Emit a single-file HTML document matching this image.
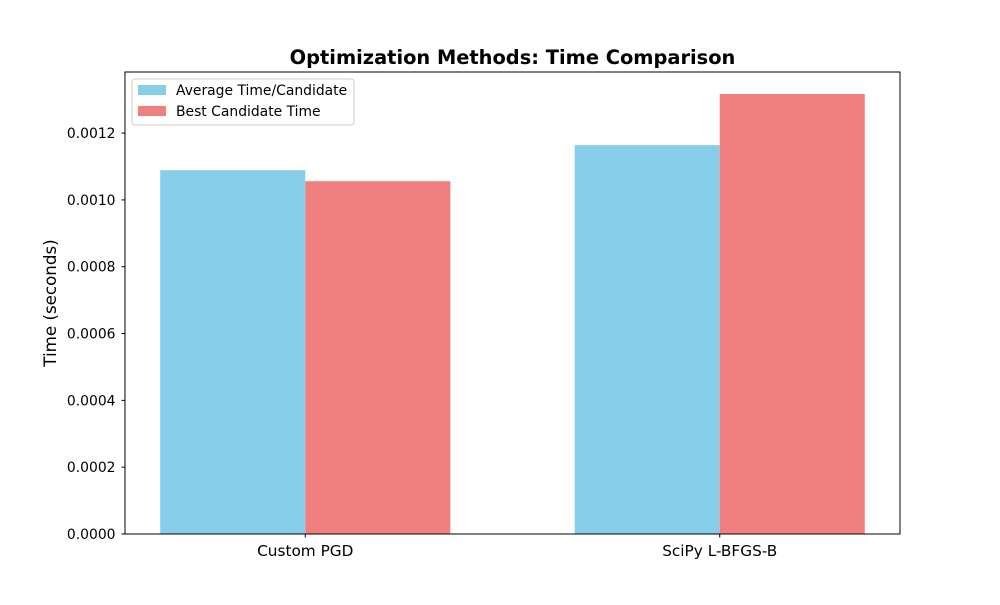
<!DOCTYPE html>
<html><head><meta charset="utf-8"><style>
body{margin:0;background:#fff;font-family:"Liberation Sans","DejaVu Sans",sans-serif}
svg text{font-family:"DejaVu Sans","Liberation Sans",sans-serif}
</style></head><body>
<svg id="chart" width="1000" height="600" xmlns="http://www.w3.org/2000/svg"></svg>
<script>
const categories = ["Custom PGD", "SciPy L-BFGS-B"];
const avgTimes = [0.001089, 0.001164];
const bestTimes = [0.001056, 0.001317];
const yTicks = [0, 0.0002, 0.0004, 0.0006, 0.0008, 0.0010, 0.0012];
const seriesNames = ["Average Time/Candidate", "Best Candidate Time"];
const seriesColors = ["#87ceeb", "#f08080"];

const L=125,R=900,T=72,B=534;
const yMax=Math.max(...avgTimes,...bestTimes)*1.05;
const y=v=>B-(v/yMax)*(B-T);
const xMin=-0.435,xMax=categories.length-1+0.435;
const x=v=>L+(v-xMin)/(xMax-xMin)*(R-L);
const bw=0.35;
const svg=document.getElementById('chart');
const NS="http://www.w3.org/2000/svg";
function mk(tag,attrs,parent){const e=document.createElementNS(NS,tag);for(const k in attrs)e.setAttribute(k,attrs[k]);(parent||svg).appendChild(e);return e;}

[avgTimes,bestTimes].forEach((series,si)=>{
  series.forEach((v,i)=>{
    const off=si===0?-bw:0;
    const r=mk('rect',{x:x(i+off),y:y(v),width:x(i+off+bw)-x(i+off),height:B-y(v),fill:seriesColors[si]});
    
    
  });
});
const frame=mk('rect',{x:L,y:T,width:R-L,height:B-T,fill:'none',stroke:'#000','stroke-width':1});



yTicks.forEach(t=>{
  const yy=y(t);
  mk('line',{x1:L-3.5,x2:L,y1:yy,y2:yy,stroke:'#000'});
  const tx=mk('text',{x:L-9.5,y:yy+5,'text-anchor':'end','font-size':'13.9'});
  tx.textContent=t.toFixed(4);
  
  
});
categories.forEach((c,i)=>{
  mk('line',{x1:x(i),x2:x(i),y1:B,y2:B+3.5,stroke:'#000'});
  const tx=mk('text',{x:x(i),y:B+22,'text-anchor':'middle','font-size':'15.3'});
  tx.textContent=c;
  
  
});
const yt=mk('text',{x:56,y:(T+B)/2,'text-anchor':'middle','font-size':'16.7',transform:`rotate(-90 56 ${(T+B)/2})`});
yt.textContent="Time (seconds)";


const title=mk('text',{x:(L+R)/2,y:64,'text-anchor':'middle','font-size':'19.4','font-weight':'bold'});
title.textContent="Optimization Methods: Time Comparison";



const lg=mk('g',{});


mk('rect',{x:132,y:79,width:222,height:46,rx:3,fill:'#fff',stroke:'#ccc'},lg);
seriesNames.forEach((n,i)=>{
  const yy=85+i*21;
  mk('rect',{x:138,y:yy,width:28,height:10,fill:seriesColors[i]},lg);
  const tx=mk('text',{x:176,y:yy+10,'font-size':'13.9'},lg);
  tx.textContent=n;
  
  
});
</script>
</body></html>
